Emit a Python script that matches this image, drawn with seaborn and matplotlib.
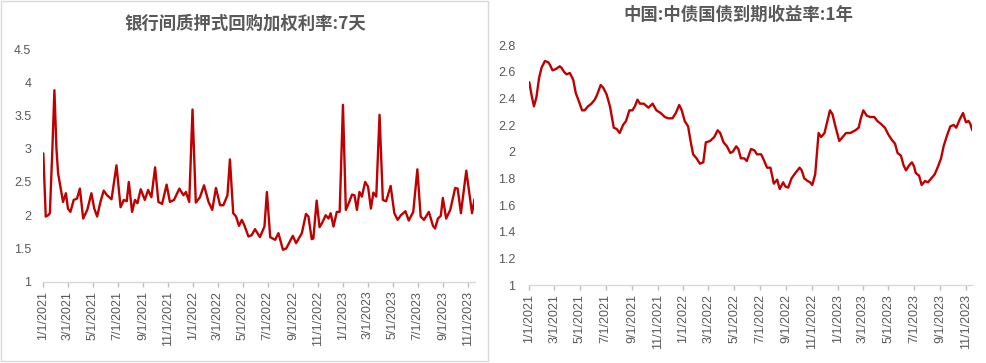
import numpy as np
import pandas as pd
import matplotlib
matplotlib.use("Agg")
import matplotlib.pyplot as plt
import matplotlib.dates as mdates
from matplotlib.ticker import FuncFormatter, FixedLocator
import seaborn as sns

# ---------------- data ----------------
repo_title = "银行间质押式回购加权利率:7天"
repo_dates = [
    "2021-01-01", "2021-01-07", "2021-01-13", "2021-01-17", "2021-01-23", "2021-01-28",
    "2021-02-02", "2021-02-06", "2021-02-13", "2021-02-18", "2021-02-25", "2021-03-02",
    "2021-03-08", "2021-03-16", "2021-03-24", "2021-03-31", "2021-04-08", "2021-04-18",
    "2021-04-28", "2021-05-05", "2021-05-12", "2021-05-20", "2021-05-28", "2021-06-05",
    "2021-06-16", "2021-06-28", "2021-07-08", "2021-07-16", "2021-07-23", "2021-07-28",
    "2021-08-05", "2021-08-12", "2021-08-18", "2021-08-26", "2021-09-05", "2021-09-13",
    "2021-09-21", "2021-09-30", "2021-10-08", "2021-10-17", "2021-10-28", "2021-11-05",
    "2021-11-15", "2021-11-28", "2021-12-08", "2021-12-14", "2021-12-22", "2021-12-30",
    "2022-01-07", "2022-01-17", "2022-01-27", "2022-02-07", "2022-02-16", "2022-02-25",
    "2022-03-07", "2022-03-15", "2022-03-25", "2022-03-31", "2022-04-08", "2022-04-15",
    "2022-04-22", "2022-04-29", "2022-05-05", "2022-05-15", "2022-05-23", "2022-05-31",
    "2022-06-12", "2022-06-23", "2022-06-29", "2022-07-07", "2022-07-19", "2022-07-27",
    "2022-08-07", "2022-08-15", "2022-08-31", "2022-09-08", "2022-09-22", "2022-10-02",
    "2022-10-08", "2022-10-16", "2022-10-20", "2022-10-28", "2022-11-04", "2022-11-10",
    "2022-11-19", "2022-11-26", "2022-12-01", "2022-12-08", "2022-12-16", "2022-12-23",
    "2022-12-31", "2023-01-07", "2023-01-14", "2023-01-22", "2023-01-28", "2023-02-03",
    "2023-02-09", "2023-02-15", "2023-02-23", "2023-03-02", "2023-03-09", "2023-03-15",
    "2023-03-22", "2023-03-30", "2023-04-07", "2023-04-15", "2023-04-26", "2023-05-05",
    "2023-05-13", "2023-05-21", "2023-06-01", "2023-06-09", "2023-06-20", "2023-06-30",
    "2023-07-08", "2023-07-16", "2023-07-28", "2023-08-07", "2023-08-12", "2023-08-19",
    "2023-08-26", "2023-08-31", "2023-09-08", "2023-09-18", "2023-09-30", "2023-10-06",
    "2023-10-14", "2023-10-27", "2023-11-10", "2023-11-16",
]
repo_values = [
    2.93, 1.98, 2.00, 2.03, 2.98, 3.88,
    3.00, 2.63, 2.38, 2.20, 2.33, 2.10,
    2.05, 2.23, 2.25, 2.40, 1.95, 2.08,
    2.33, 2.10, 1.98, 2.20, 2.37, 2.30,
    2.24, 2.75, 2.12, 2.23, 2.21, 2.50,
    2.05, 2.23, 2.18, 2.39, 2.23, 2.38,
    2.27, 2.72, 2.20, 2.17, 2.46, 2.20,
    2.23, 2.40, 2.30, 2.35, 2.20, 3.59,
    2.19, 2.27, 2.45, 2.20, 2.08, 2.41,
    2.15, 2.15, 2.30, 2.84, 2.03, 1.98,
    1.84, 1.93, 1.85, 1.68, 1.70, 1.79,
    1.67, 1.83, 2.35, 1.67, 1.63, 1.73,
    1.48, 1.50, 1.69, 1.58, 1.73, 2.02,
    1.98, 1.64, 1.65, 2.22, 1.82, 1.88,
    2.00, 1.95, 2.03, 1.83, 2.05, 2.05,
    3.66, 2.08, 2.18, 2.31, 2.30, 2.08,
    2.35, 2.28, 2.50, 2.43, 2.10, 2.34,
    2.28, 3.51, 2.23, 2.21, 2.44, 2.03,
    1.93, 2.00, 2.06, 1.92, 2.05, 2.69,
    1.98, 1.93, 2.05, 1.84, 1.80, 1.95,
    1.99, 2.26, 1.95, 2.08, 2.41, 2.40,
    2.03, 2.67, 2.03, 2.24,
]

bond_title = "中国:中债国债到期收益率:1年"
bond_dates = [
    "2021-01-01", "2021-01-06", "2021-01-12", "2021-01-18", "2021-01-24", "2021-01-30",
    "2021-02-07", "2021-02-15", "2021-02-19", "2021-02-25", "2021-03-05", "2021-03-14",
    "2021-03-18", "2021-03-24", "2021-03-30", "2021-04-07", "2021-04-15", "2021-04-21",
    "2021-04-27", "2021-05-06", "2021-05-12", "2021-05-20", "2021-05-28", "2021-06-05",
    "2021-06-11", "2021-06-19", "2021-06-25", "2021-07-03", "2021-07-11", "2021-07-20",
    "2021-07-27", "2021-08-03", "2021-08-11", "2021-08-18", "2021-08-26", "2021-09-02",
    "2021-09-08", "2021-09-14", "2021-09-20", "2021-09-29", "2021-10-10", "2021-10-20",
    "2021-10-29", "2021-11-08", "2021-11-18", "2021-11-26", "2021-12-06", "2021-12-14",
    "2021-12-22", "2021-12-28", "2022-01-04", "2022-01-12", "2022-01-19", "2022-01-24",
    "2022-02-01", "2022-02-09", "2022-02-17", "2022-02-23", "2022-03-05", "2022-03-15",
    "2022-03-23", "2022-03-29", "2022-04-06", "2022-04-14", "2022-04-22", "2022-04-28",
    "2022-05-06", "2022-05-11", "2022-05-17", "2022-05-25", "2022-05-31", "2022-06-10",
    "2022-06-18", "2022-06-24", "2022-07-04", "2022-07-10", "2022-07-18", "2022-07-26",
    "2022-08-03", "2022-08-11", "2022-08-17", "2022-08-25", "2022-08-30", "2022-09-06",
    "2022-09-14", "2022-09-23", "2022-10-03", "2022-10-08", "2022-10-14", "2022-10-22",
    "2022-10-28", "2022-11-02", "2022-11-09", "2022-11-17", "2022-11-23", "2022-12-01",
    "2022-12-08", "2022-12-14", "2022-12-20", "2022-12-26", "2023-01-05", "2023-01-13",
    "2023-01-21", "2023-01-31", "2023-02-12", "2023-02-20", "2023-02-25", "2023-03-03",
    "2023-03-11", "2023-03-19", "2023-03-29", "2023-04-05", "2023-04-13", "2023-04-23",
    "2023-05-01", "2023-05-09", "2023-05-17", "2023-05-23", "2023-05-31", "2023-06-06",
    "2023-06-12", "2023-06-20", "2023-06-26", "2023-07-01", "2023-07-05", "2023-07-13",
    "2023-07-19", "2023-07-27", "2023-08-03", "2023-08-11", "2023-08-19", "2023-08-27",
    "2023-09-03", "2023-09-09", "2023-09-17", "2023-09-25", "2023-10-03", "2023-10-09",
    "2023-10-17", "2023-10-25", "2023-11-01", "2023-11-07", "2023-11-11", "2023-11-16",
]
bond_values = [
    2.52, 2.43, 2.34, 2.41, 2.55, 2.63,
    2.68, 2.67, 2.65, 2.61, 2.62, 2.64,
    2.63, 2.60, 2.58, 2.59, 2.54, 2.44,
    2.39, 2.31, 2.31, 2.34, 2.36, 2.39,
    2.43, 2.50, 2.48, 2.43, 2.34, 2.18,
    2.17, 2.14, 2.20, 2.23, 2.31, 2.31,
    2.34, 2.39, 2.36, 2.36, 2.33, 2.36,
    2.31, 2.29, 2.26, 2.25, 2.25, 2.29,
    2.35, 2.31, 2.23, 2.19, 2.06, 1.98,
    1.95, 1.91, 1.92, 2.07, 2.08, 2.11,
    2.16, 2.14, 2.07, 2.04, 1.99, 2.00,
    2.04, 2.02, 1.95, 1.95, 1.93, 2.02,
    2.01, 1.98, 1.98, 1.94, 1.88, 1.88,
    1.76, 1.79, 1.72, 1.77, 1.74, 1.73,
    1.80, 1.84, 1.88, 1.86, 1.80, 1.78,
    1.77, 1.75, 1.83, 2.14, 2.11, 2.14,
    2.23, 2.31, 2.28, 2.20, 2.08, 2.11,
    2.14, 2.14, 2.16, 2.18, 2.25, 2.31,
    2.27, 2.26, 2.26, 2.23, 2.21, 2.18,
    2.13, 2.09, 2.06, 1.99, 1.97, 1.90,
    1.86, 1.90, 1.92, 1.89, 1.84, 1.82,
    1.75, 1.78, 1.77, 1.80, 1.83, 1.89,
    1.95, 2.04, 2.12, 2.19, 2.20, 2.18,
    2.24, 2.29, 2.22, 2.23, 2.21, 2.16,
]

repo_yticks = [1, 1.5, 2, 2.5, 3, 3.5, 4, 4.5]
bond_yticks = [1, 1.2, 1.4, 1.6, 1.8, 2, 2.2, 2.4, 2.6, 2.8]
tick_months = [1, 3, 5, 7, 9, 11]

# ---------------- style ----------------
sns.set_theme(style="white")
plt.rcParams["font.family"] = ["Liberation Sans", "Noto Sans CJK SC", "DejaVu Sans"]

LINE = "#C00000"
TXT = "#595959"
GRID = "#D9D9D9"

W, H = 987, 363
fig = plt.figure(figsize=(W / 100, H / 100), dpi=100)
fig.patch.set_facecolor("white")


def px_axes(x0, x1, ytop, ybot):
    return fig.add_axes([x0 / W, 1 - ybot / H, (x1 - x0) / W, (ybot - ytop) / H])


def date_fmt(x, pos):
    d = mdates.num2date(x)
    return f"{d.month}/{d.day}/{d.year}"


def style_axes(ax, yticks, ypad):
    ax.set_facecolor("white")
    for s in ["top", "right", "left"]:
        ax.spines[s].set_visible(False)
    ax.spines["bottom"].set_color(GRID)
    ax.spines["bottom"].set_linewidth(1.0)
    ax.set_ylim(yticks[0], yticks[-1])
    ax.yaxis.set_major_locator(FixedLocator(yticks))
    ax.yaxis.set_major_formatter(FuncFormatter(lambda v, p: f"{v:g}"))
    ax.xaxis.set_major_locator(mdates.MonthLocator(bymonth=tick_months, bymonthday=1))
    ax.xaxis.set_major_formatter(FuncFormatter(date_fmt))
    ax.tick_params(axis="x", which="major", bottom=True, length=3.5, width=1,
                   color="#BFBFBF", labelsize=9, labelcolor=TXT, rotation=90, pad=3)
    ax.tick_params(axis="y", left=False, length=0, labelsize=9, labelcolor=TXT, pad=ypad)
    ax.set_xlabel("")
    ax.set_ylabel("")
    ax.grid(False)


# ---------------- left chart ----------------
df_repo = pd.DataFrame({"date": pd.to_datetime(repo_dates), "value": repo_values})
ax1 = px_axes(43.3, 474.5, 49, 281.7)
sns.lineplot(data=df_repo, x="date", y="value", ax=ax1, color=LINE, linewidth=1.7)
ax1.set_xlim(df_repo["date"].iloc[0], df_repo["date"].iloc[-1])
style_axes(ax1, repo_yticks, 8.6)
fig.text(245 / W, 1 - 24 / H, repo_title, ha="center", va="center", fontsize=12.5,
         color=TXT, family=["Noto Sans CJK SC", "DejaVu Sans"], fontweight="bold")

# ---------------- right chart ----------------
df_bond = pd.DataFrame({"date": pd.to_datetime(bond_dates), "value": bond_values})
ax2 = px_axes(529.3, 972.3, 45, 285)
sns.lineplot(data=df_bond, x="date", y="value", ax=ax2, color=LINE, linewidth=1.7)
ax2.set_xlim(df_bond["date"].iloc[0], df_bond["date"].iloc[-1])
style_axes(ax2, bond_yticks, 10)
fig.text(738.5 / W, 1 - 15 / H, bond_title, ha="center", va="center", fontsize=12.5,
         color=TXT, family=["Noto Sans CJK SC", "DejaVu Sans"], fontweight="bold")

# left chart frame
fig.add_artist(plt.Rectangle((0.5 / W, 1 - 361 / H), 488 / W, 360.5 / H,
                             transform=fig.transFigure, fill=False,
                             edgecolor=GRID, linewidth=1.0))

fig.savefig("out.png", dpi=100, facecolor="white")
